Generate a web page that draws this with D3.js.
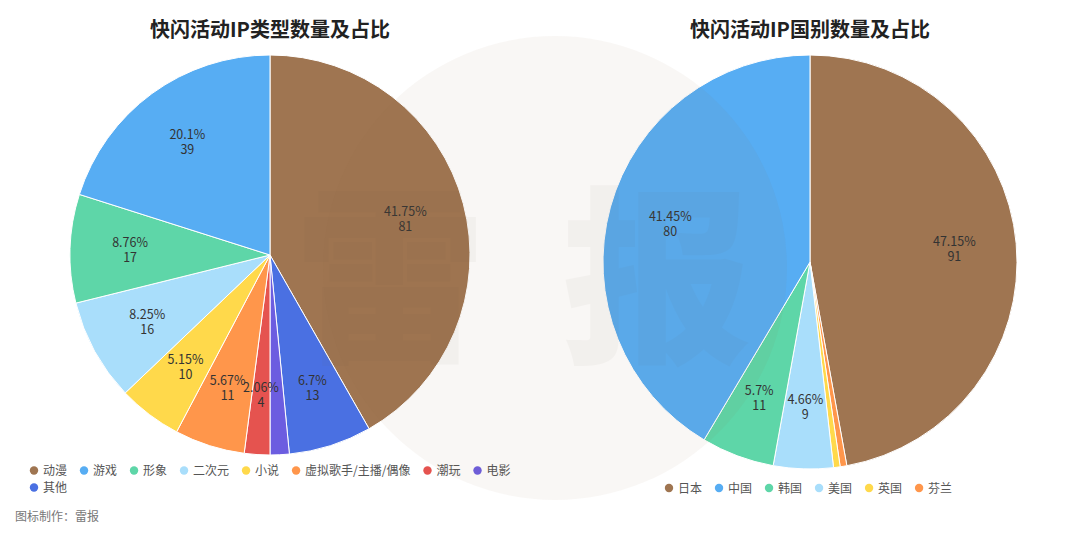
<!DOCTYPE html>
<html>
<head>
<meta charset="utf-8">
<script src="https://cdn.jsdelivr.net/npm/d3@7/dist/d3.min.js"></script>
<style>
  html, body { margin: 0; padding: 0; background: #fff; }
  svg { display: block; font-family: "Noto Sans CJK SC", "Noto Sans", sans-serif; }
</style>
</head>
<body>
<svg id="chart" width="1080" height="540"></svg>
<script>
// ---- Data ----
const typeTitle = "快闪活动IP类型数量及占比";
const typeCategories = ["动漫", "游戏", "形象", "二次元", "小说", "虚拟歌手/主播/偶像", "潮玩", "电影", "其他"];
const typeValues = [81, 39, 17, 16, 10, 11, 4, 3, 13];
const typePercents = ["41.75%", "20.1%", "8.76%", "8.25%", "5.15%", "5.67%", "2.06%", "1.55%", "6.7%"];
const typeColors = ["#9f7551", "#57adf3", "#5ed6a8", "#a9defb", "#ffd94b", "#ff964b", "#e5534f", "#6c5de0", "#4a70e2"];
// drawing order clockwise from 12 o'clock (index into categories)
const typeDrawOrder = [0, 8, 7, 6, 5, 4, 3, 2, 1];

const countryTitle = "快闪活动IP国别数量及占比";
const countryCategories = ["日本", "中国", "韩国", "美国", "英国", "芬兰"];
const countryValues = [91, 80, 11, 9, 1, 1];
const countryPercents = ["47.15%", "41.45%", "5.7%", "4.66%", "0.52%", "0.52%"];
const countryColors = ["#9f7551", "#57adf3", "#5ed6a8", "#a9defb", "#ffd94b", "#ff964b"];
const countryDrawOrder = [0, 5, 4, 3, 2, 1];
const countryShowLabel = [true, true, true, true, false, false];
const typeShowLabel = [true, true, true, true, true, true, true, false, true];

const footerText = "图标制作：雷报";
const watermarkChars = ["雷", "报"];

// ---- Drawing ----
const svg = d3.select("#chart");

function drawPie(cfg) {
  const g = svg.append("g").attr("transform", `translate(${cfg.cx},${cfg.cy})`);
  const data = cfg.order.map(i => ({i, value: cfg.values[i]}));
  const pie = d3.pie().sort(null).value(d => d.value).startAngle(0).endAngle(2 * Math.PI);
  const arcs = pie(data);
  const arc = d3.arc().innerRadius(0).outerRadius(cfg.r);
  const labelArc = d3.arc().innerRadius(cfg.r * 0.7).outerRadius(cfg.r * 0.7);

  g.selectAll("path.slice").data(arcs).join("path")
    .attr("class", "slice")
    .attr("d", arc)
    .attr("fill", d => cfg.colors[d.data.i])
    .attr("stroke", "#fff")
    .attr("stroke-width", 1);

  const lab = g.selectAll("text.lbl").data(arcs.filter(d => cfg.show[d.data.i])).join("text")
    .attr("class", "lbl")
    .attr("transform", d => `translate(${labelArc.centroid(d)})`)
    .attr("text-anchor", "middle")
    .attr("font-size", 12.5)
    .attr("fill", "#333");
  lab.append("tspan").attr("x", 0).attr("y", -3).text(d => cfg.percents[d.data.i]);
  lab.append("tspan").attr("x", 0).attr("y", 12).text(d => cfg.values[d.data.i]);

  svg.append("text")
    .attr("x", cfg.cx).attr("y", 37)
    .attr("text-anchor", "middle")
    .attr("font-size", 20)
    .attr("font-weight", "bold")
    .attr("fill", "#222")
    .text(cfg.title);
}

function drawLegend(cfg) {
  const lg = svg.append("g");
  let x = cfg.x, y = cfg.y;
  cfg.categories.forEach((c, i) => {
    const item = lg.append("g");
    const t = item.append("text")
      .attr("x", 9).attr("y", 4.5)
      .attr("font-size", 12)
      .attr("fill", "#555")
      .text(c);
    const w = t.node().getComputedTextLength();
    const itemW = 9 + w + 17;
    if (x + 9 + w > cfg.maxX) { x = cfg.x; y += cfg.rowH; }
    item.append("circle").attr("cx", 0).attr("cy", 0).attr("r", 4.2).attr("fill", cfg.colors[i]);
    item.attr("transform", `translate(${x},${y})`);
    x += itemW;
  });
}

drawPie({cx: 270, cy: 255, r: 200, values: typeValues, percents: typePercents, colors: typeColors,
         order: typeDrawOrder, show: typeShowLabel, title: typeTitle});
drawPie({cx: 810, cy: 262, r: 207, values: countryValues, percents: countryPercents, colors: countryColors,
         order: countryDrawOrder, show: countryShowLabel, title: countryTitle});

drawLegend({x: 34, y: 470.5, rowH: 17, maxX: 525, categories: typeCategories, colors: typeColors});
drawLegend({x: 669, y: 488, rowH: 17, maxX: 1070, categories: countryCategories, colors: countryColors});

svg.append("text")
  .attr("x", 15).attr("y", 521)
  .attr("font-size", 12)
  .attr("fill", "#777")
  .text(footerText);

// watermark overlay
const wm = svg.append("g").attr("pointer-events", "none");
wm.append("circle").attr("cx", 555).attr("cy", 268).attr("r", 232)
  .attr("fill", "#8c7050").attr("opacity", 0.055);
wm.selectAll("text.wm").data(watermarkChars).join("text")
  .attr("class", "wm")
  .attr("x", (d, i) => i === 0 ? 390 : 657)
  .attr("y", 348)
  .attr("text-anchor", "middle")
  .attr("font-size", 190)
  .attr("font-weight", 900)
  .attr("fill", "#6a5a48")
  .attr("opacity", 0.04)
  .text(d => d);
</script>
</body>
</html>
